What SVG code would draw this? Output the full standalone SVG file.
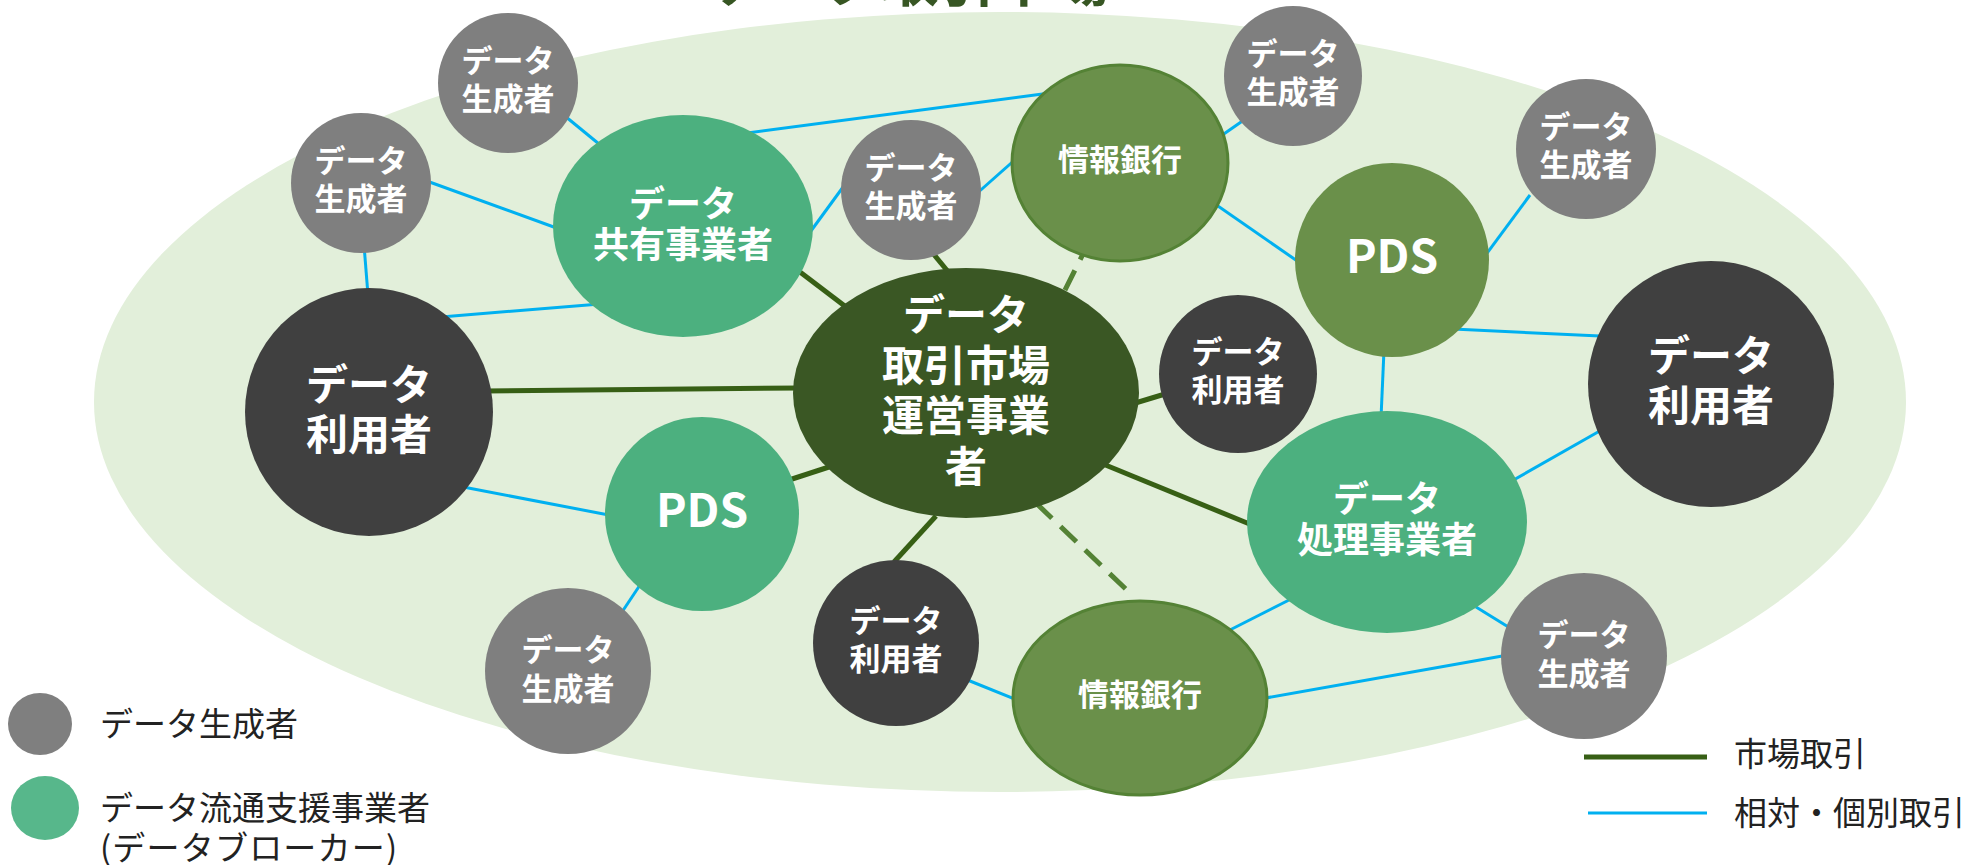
<svg xmlns="http://www.w3.org/2000/svg" width="1970" height="865" viewBox="0 0 1970 865">
<defs>
<style>
.nt{font-family:"Noto Sans CJK JP","Noto Sans",sans-serif;font-weight:bold;fill:#fff;text-anchor:middle}
.s{font-size:31px}
.m{font-size:36px}
.l{font-size:42px}
.pds{font-size:46px}
.lg{font-family:"Noto Sans CJK JP","Noto Sans",sans-serif;font-size:33px;fill:#222}
.gen{fill:#7f7f7f}
.usr{fill:#404040}
.sup{fill:#4cb07f}
.olv{fill:#6a904a}
.bank{fill:#6a904a;stroke:#548235;stroke-width:3}
.blue{stroke:#00b0f0;stroke-width:3;fill:none}
.mkt{stroke:#375f15;stroke-width:5;fill:none}
.dsh{stroke:#548235;stroke-width:5;fill:none;stroke-dasharray:22 12}
</style>
</defs>
<rect width="1970" height="865" fill="#fff"/>
<text x="910" y="1" font-family="Noto Sans CJK JP, sans-serif" font-weight="bold" font-size="57" fill="#375623" text-anchor="middle">データ取引市場</text>
<ellipse cx="1000" cy="402" rx="906" ry="390" fill="#e2efda"/>
<g id="connectors">
<line class="blue" x1="560" y1="112" x2="610" y2="153"/>
<line class="blue" x1="424" y1="180" x2="562" y2="230"/>
<line class="blue" x1="364" y1="245" x2="368" y2="295"/>
<line class="blue" x1="441" y1="317" x2="600" y2="304"/>
<line class="blue" x1="740" y1="134" x2="1050" y2="93"/>
<line class="blue" x1="808" y1="235" x2="846" y2="183"/>
<line class="blue" x1="974" y1="196" x2="1018" y2="157"/>
<line class="blue" x1="1218" y1="138" x2="1254" y2="113"/>
<line class="blue" x1="1205" y1="197" x2="1303" y2="265"/>
<line class="blue" x1="1482" y1="260" x2="1530" y2="195"/>
<line class="blue" x1="1453" y1="329" x2="1600" y2="336"/>
<line class="blue" x1="1384" y1="350" x2="1381" y2="418"/>
<line class="blue" x1="1510" y1="482" x2="1605" y2="428"/>
<line class="blue" x1="1476" y1="607" x2="1510" y2="628"/>
<line class="blue" x1="1260" y1="699" x2="1508" y2="655"/>
<line class="blue" x1="1222" y1="634" x2="1295" y2="597"/>
<line class="blue" x1="965" y1="679" x2="1022" y2="702"/>
<line class="blue" x1="458" y1="486" x2="614" y2="516"/>
<line class="blue" x1="640" y1="585" x2="620" y2="615"/>
<line class="mkt" x1="485" y1="391" x2="800" y2="388"/>
<line class="mkt" x1="800" y1="272" x2="850" y2="310"/>
<line class="mkt" x1="931" y1="251" x2="950" y2="274"/>
<line class="mkt" x1="1132" y1="404" x2="1175" y2="391"/>
<line class="mkt" x1="786" y1="481" x2="832" y2="466"/>
<line class="mkt" x1="1103" y1="464" x2="1252" y2="525"/>
<line class="mkt" x1="936" y1="516" x2="894" y2="562"/>
<line class="dsh" x1="1090" y1="240" x2="1060" y2="300"/>
<line class="dsh" x1="1036" y1="503" x2="1132" y2="595"/>
</g>
<g id="g1"><ellipse class="gen" cx="508" cy="83" rx="70" ry="70"/><text class="nt s"><tspan x="508" y="72">データ</tspan><tspan x="508" dy="38">生成者</tspan></text></g>
<g id="g2"><ellipse class="gen" cx="361" cy="183" rx="70" ry="70"/><text class="nt s"><tspan x="361" y="172">データ</tspan><tspan x="361" dy="38">生成者</tspan></text></g>
<g id="u1"><ellipse class="usr" cx="369" cy="412" rx="124" ry="124"/><text class="nt l"><tspan x="369" y="400">データ</tspan><tspan x="369" dy="50">利用者</tspan></text></g>
<g id="s1"><ellipse class="sup" cx="683" cy="226" rx="130" ry="111"/><text class="nt m"><tspan x="683" y="217">データ</tspan><tspan x="683" dy="41">共有事業者</tspan></text></g>
<g id="g3"><ellipse class="gen" cx="911" cy="190" rx="70" ry="70"/><text class="nt s"><tspan x="911" y="179">データ</tspan><tspan x="911" dy="38">生成者</tspan></text></g>
<g id="ib1"><ellipse class="bank" cx="1120" cy="163" rx="108" ry="98"/><text class="nt s" x="1120" y="171">情報銀行</text></g>
<g id="g4"><ellipse class="gen" cx="1293" cy="76" rx="69" ry="70"/><text class="nt s"><tspan x="1293" y="65">データ</tspan><tspan x="1293" dy="38">生成者</tspan></text></g>
<g id="g5"><ellipse class="gen" cx="1586" cy="149" rx="70" ry="70"/><text class="nt s"><tspan x="1586" y="138">データ</tspan><tspan x="1586" dy="38">生成者</tspan></text></g>
<g id="p2"><ellipse class="olv" cx="1392" cy="260" rx="97" ry="97"/><text class="nt pds" x="1392" y="273">PDS</text></g>
<g id="c"><ellipse fill="#3a5724" cx="966" cy="393" rx="173" ry="125"/><text class="nt l"><tspan x="966" y="330">データ</tspan><tspan x="966" dy="51">取引市場</tspan><tspan x="966" dy="50">運営事業</tspan><tspan x="966" dy="51">者</tspan></text></g>
<g id="u2"><ellipse class="usr" cx="1238" cy="374" rx="79" ry="79"/><text class="nt s"><tspan x="1238" y="363">データ</tspan><tspan x="1238" dy="38">利用者</tspan></text></g>
<g id="u3"><ellipse class="usr" cx="1711" cy="384" rx="123" ry="123"/><text class="nt l"><tspan x="1711" y="371">データ</tspan><tspan x="1711" dy="50">利用者</tspan></text></g>
<g id="pr"><ellipse class="sup" cx="1387" cy="522" rx="140" ry="111"/><text class="nt m"><tspan x="1387" y="512">データ</tspan><tspan x="1387" dy="41">処理事業者</tspan></text></g>
<g id="p1"><ellipse class="sup" cx="702" cy="514" rx="97" ry="97"/><text class="nt pds" x="702" y="527">PDS</text></g>
<g id="u4"><ellipse class="usr" cx="896" cy="643" rx="83" ry="83"/><text class="nt s"><tspan x="896" y="632">データ</tspan><tspan x="896" dy="38">利用者</tspan></text></g>
<g id="ib2"><ellipse class="bank" cx="1140" cy="698" rx="127" ry="97"/><text class="nt s" x="1140" y="706">情報銀行</text></g>
<g id="g6"><ellipse class="gen" cx="1584" cy="656" rx="83" ry="83"/><text class="nt s"><tspan x="1584" y="646">データ</tspan><tspan x="1584" dy="39">生成者</tspan></text></g>
<g id="g7"><ellipse class="gen" cx="568" cy="671" rx="83" ry="83"/><text class="nt s"><tspan x="568" y="661">データ</tspan><tspan x="568" dy="39">生成者</tspan></text></g>
<g id="legend">
<ellipse class="gen" cx="40" cy="724" rx="32" ry="31"/>
<text class="lg" x="100" y="736">データ生成者</text>
<ellipse fill="#57b78b" cx="45" cy="808" rx="34" ry="32"/>
<text class="lg"><tspan x="100" y="820">データ流通支援事業者</tspan><tspan x="100" y="860" letter-spacing="1.2">(データブローカー)</tspan></text>
<line class="mkt" x1="1584" y1="757" x2="1707" y2="757"/>
<text class="lg" x="1734" y="766">市場取引</text>
<line class="blue" x1="1588" y1="813" x2="1707" y2="813"/>
<text class="lg" x="1734" y="825">相対・個別取引</text>
</g>
</svg>
